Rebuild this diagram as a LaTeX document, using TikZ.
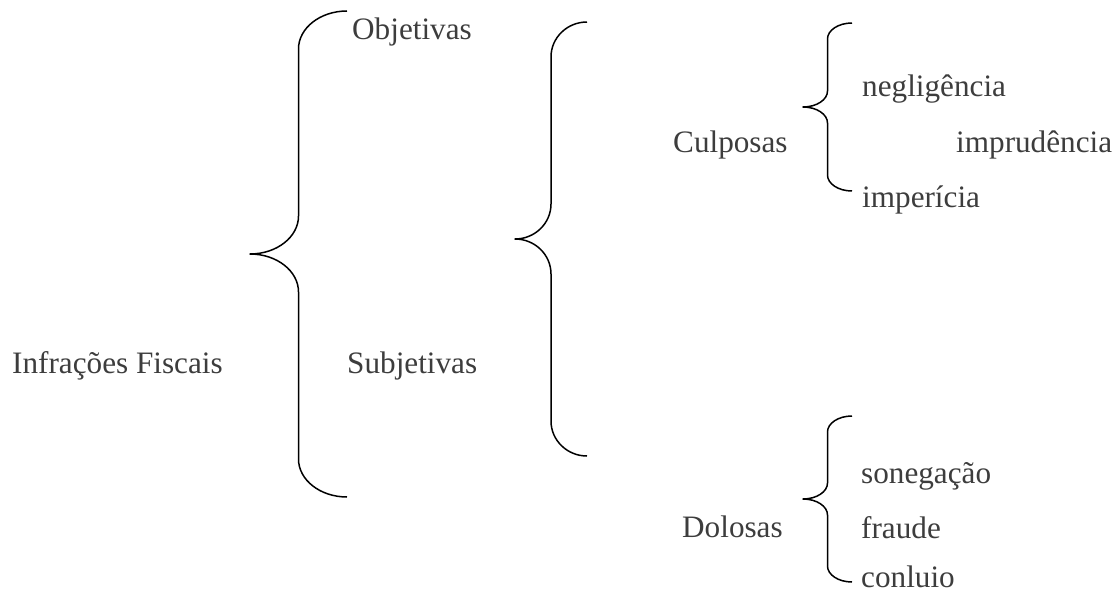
\documentclass[tikz,border=0pt]{standalone}
\usepackage{fontspec}
\setmainfont{Liberation Serif}
\definecolor{inktext}{gray}{0.24}
\tikzset{
  x=1pt, y=-1pt,
  lbl/.style={anchor=base west, inner sep=0pt, text=inktext,
    font=\fontsize{31.2}{37}\selectfont},
  bracestroke/.style={line width=1.5pt, black, line join=round},
  % curly brace opening to the right, drawn with its tip at the pic origin:
  % #1 = horizontal step (tip to stem, stem to ends), #2 = half height,
  % #3 = vertical extent of each bend
  pics/curly/.style n args={3}{code={
    \draw[bracestroke]
      ({2*#1},{-#2}) .. controls ({1.448*#1},{-#2}) and ({#1},{-#2+0.448*#3}) .. ({#1},{-#2+#3})
      -- ({#1},{-#3}) .. controls ({#1},{-0.448*#3}) and ({0.552*#1},0) .. (0,0)
      .. controls ({0.552*#1},0) and ({#1},{0.448*#3}) .. ({#1},{#3})
      -- ({#1},{#2-#3}) .. controls ({#1},{#2-0.448*#3}) and ({1.448*#1},{#2}) .. ({2*#1},{#2});
  }}
}
\begin{document}
\begin{tikzpicture}
\useasboundingbox (0,0) rectangle (1117,594);

% brace tips
\coordinate (tipA) at (250,254);
\coordinate (tipB) at (515,239);
\coordinate (tipC) at (803,107);
\coordinate (tipD) at (803,499);

% braces
\pic at (tipA) {curly={48.5}{243}{38}};
\pic at (tipB) {curly={36}{217}{35}};
\pic at (tipC) {curly={24.5}{84}{16}};
\pic at (tipD) {curly={24.5}{83}{16}};

% labels
\node[lbl] (infracoes)   at (12,373)  {Infrações Fiscais};
\node[lbl] (objetivas)   at (352,40)  {Objetivas};
\node[lbl] (subjetivas)  at (347,373) {Subjetivas};
\node[lbl] (culposas)    at (673,152) {Culposas};
\node[lbl] (dolosas)     at (682,537) {Dolosas};

\node[lbl] (negligencia) at (862,96)  {negligência};
\node[lbl] (imprudencia) at (956,152) {imprudência};
\node[lbl] (impericia)   at (862,207) {imperícia};

\node[lbl] (sonegacao)   at (861,483) {sonegação};
\node[lbl] (fraude)      at (861,538) {fraude};
\node[lbl] (conluio)     at (861,587) {conluio};
\end{tikzpicture}
\end{document}
